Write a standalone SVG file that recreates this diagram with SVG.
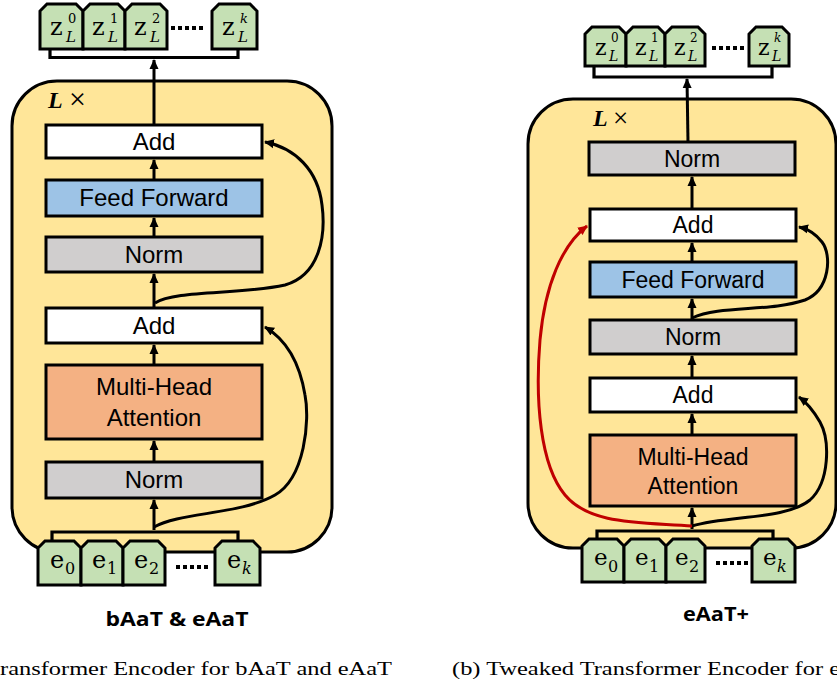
<svg xmlns="http://www.w3.org/2000/svg" width="837" height="686" viewBox="0 0 837 686">
<style>
.panel{fill:#FFE699;stroke:#000;stroke-width:3}
.blk{stroke:#000;stroke-width:3}
.add{fill:#FFFFFF}
.ff{fill:#9DC3E6}
.norm{fill:#D0CECE}
.mha{fill:#F4B183}
.tok{fill:#C5E0B4;stroke:#000;stroke-width:3;stroke-linejoin:miter}
.lbl{font-family:"Liberation Sans",Arial,sans-serif;fill:#000;text-anchor:middle}
.l24{font-size:24px}
.l23{font-size:23px}
.math{font-family:"DejaVu Serif","Liberation Serif",serif;fill:#000}
.it{font-style:italic}
.con{fill:none;stroke:#000;stroke-width:3}
.red{fill:none;stroke:#C00000;stroke-width:3}
.brk{fill:none;stroke:#000;stroke-width:3.2}
.dots{stroke:#000;stroke-width:4;stroke-dasharray:4 3}
.title{font-family:"Open Sans","Noto Sans",sans-serif;font-weight:bold;font-size:20px;fill:#000;text-anchor:middle}
.cap{font-family:"Liberation Serif","DejaVu Serif",serif;font-size:19px;fill:#000}
.lx{font-family:"Liberation Serif","DejaVu Serif",serif;fill:#000}
</style>
<defs>
<marker id="ah" markerUnits="userSpaceOnUse" markerWidth="10" markerHeight="10" refX="9" refY="5" orient="auto">
<path d="M0,0.5 L10,5 L0,9.5 Z" fill="#000"/>
</marker>
<marker id="ahr" markerUnits="userSpaceOnUse" markerWidth="10" markerHeight="10" refX="9" refY="5" orient="auto">
<path d="M0,0.5 L10,5 L0,9.5 Z" fill="#C00000"/>
</marker>
</defs>

<!-- containers -->
<g id="layer-left"><rect class="panel" x="12" y="81" width="320" height="471" rx="45"/>
<text class="lx" x="48" y="108" font-size="24" font-weight="bold" font-style="italic">L</text>
<text class="lx" x="69" y="109" font-size="30">×</text></g>
<g id="layer-right"><rect class="panel" x="528" y="99" width="308" height="449" rx="45"/>
<text class="lx" x="593" y="126" font-size="24" font-weight="bold" font-style="italic">L</text>
<text class="lx" x="613" y="127" font-size="27">×</text></g>

<!-- connectors -->
<g id="connectors">
<path class="brk" d="M50,49 L50,57.5 L238,57.5 L238,49"/>
<path class="brk" d="M52,541 L52,532 L238,532 L238,541"/>
<path class="brk" d="M594,66 L594,77 L772,77 L772,66"/>
<path class="brk" d="M597,539 L597,531 L773,531 L773,539"/>

<line class="con" x1="154" y1="125" x2="154" y2="60" marker-end="url(#ah)"/>
<line class="con" x1="154" y1="180" x2="154" y2="160" marker-end="url(#ah)"/>
<line class="con" x1="154" y1="237" x2="154" y2="218" marker-end="url(#ah)"/>
<line class="con" x1="154" y1="308" x2="154" y2="274" marker-end="url(#ah)"/>
<line class="con" x1="154" y1="365" x2="154" y2="345" marker-end="url(#ah)"/>
<line class="con" x1="154" y1="462" x2="154" y2="441" marker-end="url(#ah)"/>
<line class="con" x1="154" y1="530" x2="154" y2="500" marker-end="url(#ah)"/>
<path class="con" d="M154,527 C180,512 240,515 275,495 C305,478 310,420 305,395 C300,365 287,340 265,327" marker-end="url(#ah)"/>
<path class="con" d="M155,303 C175,290 240,295 285,285 C320,275 326,235 322,205 C318,170 295,148 265,142" marker-end="url(#ah)"/>

<line class="con" x1="688" y1="142" x2="687" y2="79" marker-end="url(#ah)"/>
<line class="con" x1="692" y1="209" x2="692" y2="177" marker-end="url(#ah)"/>
<line class="con" x1="692" y1="262" x2="692" y2="243" marker-end="url(#ah)"/>
<line class="con" x1="692" y1="320" x2="692" y2="299" marker-end="url(#ah)"/>
<line class="con" x1="692" y1="378" x2="692" y2="356" marker-end="url(#ah)"/>
<line class="con" x1="692" y1="435" x2="692" y2="414" marker-end="url(#ah)"/>
<line class="con" x1="692" y1="529" x2="692" y2="508" marker-end="url(#ah)"/>
<path class="red" d="M692,526 C640,522 590,525 565,495 C540,465 535,400 540,340 C545,285 562,245 587,226" marker-end="url(#ahr)"/>
<path class="con" d="M692,526 C730,515 785,520 810,500 C830,482 830,440 820,422 C813,410 806,402 799,397" marker-end="url(#ah)"/>
<path class="con" d="M692,318 C720,305 770,312 805,300 C830,290 832,255 822,242 C815,233 808,229 799,227" marker-end="url(#ah)"/>
</g>

<!-- left blocks -->
<g id="l-add1"><rect class="blk add" x="46" y="125" width="216" height="33"/><text class="lbl l24" x="154" y="150">Add</text></g>
<g id="l-ff"><rect class="blk ff" x="46" y="180" width="216" height="36"/><text class="lbl l24" x="154" y="206">Feed Forward</text></g>
<g id="l-norm1"><rect class="blk norm" x="46" y="237" width="216" height="35"/><text class="lbl l24" x="154" y="263">Norm</text></g>
<g id="l-add2"><rect class="blk add" x="46" y="308" width="216" height="35"/><text class="lbl l24" x="154" y="334">Add</text></g>
<g id="l-mha"><rect class="blk mha" x="46" y="365" width="216" height="74"/><text class="lbl l24" x="154" y="395">Multi-Head</text><text class="lbl l24" x="154" y="426">Attention</text></g>
<g id="l-norm2"><rect class="blk norm" x="46" y="462" width="216" height="36"/><text class="lbl l24" x="154" y="488">Norm</text></g>

<!-- right blocks -->
<g id="r-norm-top"><rect class="blk norm" x="589" y="142" width="206" height="33"/><text class="lbl l23" x="692" y="167">Norm</text></g>
<g id="r-add1"><rect class="blk add" x="590" y="209" width="206" height="32"/><text class="lbl l23" x="693" y="233">Add</text></g>
<g id="r-ff"><rect class="blk ff" x="590" y="262" width="206" height="35"/><text class="lbl l23" x="693" y="288">Feed Forward</text></g>
<g id="r-norm1"><rect class="blk norm" x="590" y="320" width="206" height="34"/><text class="lbl l23" x="693" y="345">Norm</text></g>
<g id="r-add2"><rect class="blk add" x="590" y="378" width="206" height="34"/><text class="lbl l23" x="693" y="403">Add</text></g>
<g id="r-mha"><rect class="blk mha" x="590" y="435" width="206" height="71"/><text class="lbl l23" x="693" y="465">Multi-Head</text><text class="lbl l23" x="693" y="494">Attention</text></g>

<!-- left outputs -->
<g id="l-z0" transform="translate(40,4)"><path class="tok" d="M0,45 L0,7 L7,0 L36,0 L43,7 L43,45 Z"/><text class="math" font-size="24"><tspan x="10" y="31">z</tspan><tspan x="28" y="19" font-size="13">0</tspan><tspan x="26" y="38" font-size="15" class="it">L</tspan></text></g>
<g id="l-z1" transform="translate(83,4)"><path class="tok" d="M0,45 L0,7 L7,0 L35,0 L42,7 L42,45 Z"/><text class="math" font-size="24"><tspan x="9" y="31">z</tspan><tspan x="27" y="19" font-size="13">1</tspan><tspan x="25" y="38" font-size="15" class="it">L</tspan></text></g>
<g id="l-z2" transform="translate(125,4)"><path class="tok" d="M0,45 L0,7 L7,0 L35,0 L42,7 L42,45 Z"/><text class="math" font-size="24"><tspan x="9" y="31">z</tspan><tspan x="27" y="19" font-size="13">2</tspan><tspan x="25" y="38" font-size="15" class="it">L</tspan></text></g>
<line class="dots" x1="171" y1="28" x2="206" y2="28"/>
<g id="l-zk" transform="translate(212,4)"><path class="tok" d="M0,45 L0,7 L7,0 L38,0 L45,7 L45,45 Z"/><text class="math" font-size="24"><tspan x="10" y="31">z</tspan><tspan x="28" y="19" font-size="13" class="it">k</tspan><tspan x="26" y="38" font-size="15" class="it">L</tspan></text></g>

<!-- left inputs -->
<g id="l-e0" transform="translate(38,541)"><path class="tok" d="M0,44 L0,7 L7,0 L36,0 L43,7 L43,44 Z"/><text class="math" font-size="24"><tspan x="12" y="27">e</tspan><tspan x="27" y="33" font-size="16">0</tspan></text></g>
<g id="l-e1" transform="translate(81,541)"><path class="tok" d="M0,44 L0,7 L7,0 L35,0 L42,7 L42,44 Z"/><text class="math" font-size="24"><tspan x="11" y="27">e</tspan><tspan x="26" y="33" font-size="16">1</tspan></text></g>
<g id="l-e2" transform="translate(123,541)"><path class="tok" d="M0,44 L0,7 L7,0 L35,0 L42,7 L42,44 Z"/><text class="math" font-size="24"><tspan x="11" y="27">e</tspan><tspan x="26" y="33" font-size="16">2</tspan></text></g>
<line class="dots" x1="176" y1="567" x2="211" y2="567"/>
<g id="l-ek" transform="translate(215,541)"><path class="tok" d="M0,44 L0,7 L7,0 L38,0 L45,7 L45,44 Z"/><text class="math" font-size="24"><tspan x="12" y="27">e</tspan><tspan x="27" y="33" font-size="16" class="it">k</tspan></text></g>

<!-- right outputs -->
<g id="r-z0" transform="translate(585,27)"><path class="tok" d="M0,39 L0,7 L7,0 L34,0 L41,7 L41,39 Z"/><text class="math" font-size="22"><tspan x="10" y="28">z</tspan><tspan x="26" y="15" font-size="12">0</tspan><tspan x="24" y="34" font-size="14" class="it">L</tspan></text></g>
<g id="r-z1" transform="translate(626,27)"><path class="tok" d="M0,39 L0,7 L7,0 L32,0 L39,7 L39,39 Z"/><text class="math" font-size="22"><tspan x="9" y="28">z</tspan><tspan x="25" y="15" font-size="12">1</tspan><tspan x="23" y="34" font-size="14" class="it">L</tspan></text></g>
<g id="r-z2" transform="translate(665,27)"><path class="tok" d="M0,39 L0,7 L7,0 L33,0 L40,7 L40,39 Z"/><text class="math" font-size="22"><tspan x="9" y="28">z</tspan><tspan x="25" y="15" font-size="12">2</tspan><tspan x="23" y="34" font-size="14" class="it">L</tspan></text></g>
<line class="dots" x1="712" y1="48" x2="744" y2="48"/>
<g id="r-zk" transform="translate(749,27)"><path class="tok" d="M0,39 L0,7 L7,0 L33,0 L40,7 L40,39 Z"/><text class="math" font-size="22"><tspan x="9" y="28">z</tspan><tspan x="25" y="15" font-size="12" class="it">k</tspan><tspan x="23" y="34" font-size="14" class="it">L</tspan></text></g>

<!-- right inputs -->
<g id="r-e0" transform="translate(582,539)"><path class="tok" d="M0,43 L0,7 L7,0 L35,0 L42,7 L42,43 Z"/><text class="math" font-size="23"><tspan x="12" y="26">e</tspan><tspan x="26" y="33" font-size="16">0</tspan></text></g>
<g id="r-e1" transform="translate(624,539)"><path class="tok" d="M0,43 L0,7 L7,0 L35,0 L42,7 L42,43 Z"/><text class="math" font-size="23"><tspan x="11" y="26">e</tspan><tspan x="25" y="33" font-size="16">1</tspan></text></g>
<g id="r-e2" transform="translate(666,539)"><path class="tok" d="M0,43 L0,7 L7,0 L32,0 L39,7 L39,43 Z"/><text class="math" font-size="23"><tspan x="9" y="26">e</tspan><tspan x="23" y="33" font-size="16">2</tspan></text></g>
<line class="dots" x1="716" y1="563" x2="748" y2="563"/>
<g id="r-ek" transform="translate(752,539)"><path class="tok" d="M0,43 L0,7 L7,0 L36,0 L43,7 L43,43 Z"/><text class="math" font-size="23"><tspan x="11" y="26">e</tspan><tspan x="25" y="33" font-size="16" class="it">k</tspan></text></g>

<!-- titles and captions -->
<text class="title" x="177" y="626" textLength="143" lengthAdjust="spacingAndGlyphs">bAaT &amp; eAaT</text>
<text class="title" x="716" y="621" textLength="66" lengthAdjust="spacingAndGlyphs">eAaT+</text>
<text class="cap" x="0" y="675" textLength="392" lengthAdjust="spacingAndGlyphs">ransformer Encoder for bAaT and eAaT</text>
<text class="cap" x="452" y="675" textLength="388" lengthAdjust="spacingAndGlyphs">(b) Tweaked Transformer Encoder for e</text>
</svg>
